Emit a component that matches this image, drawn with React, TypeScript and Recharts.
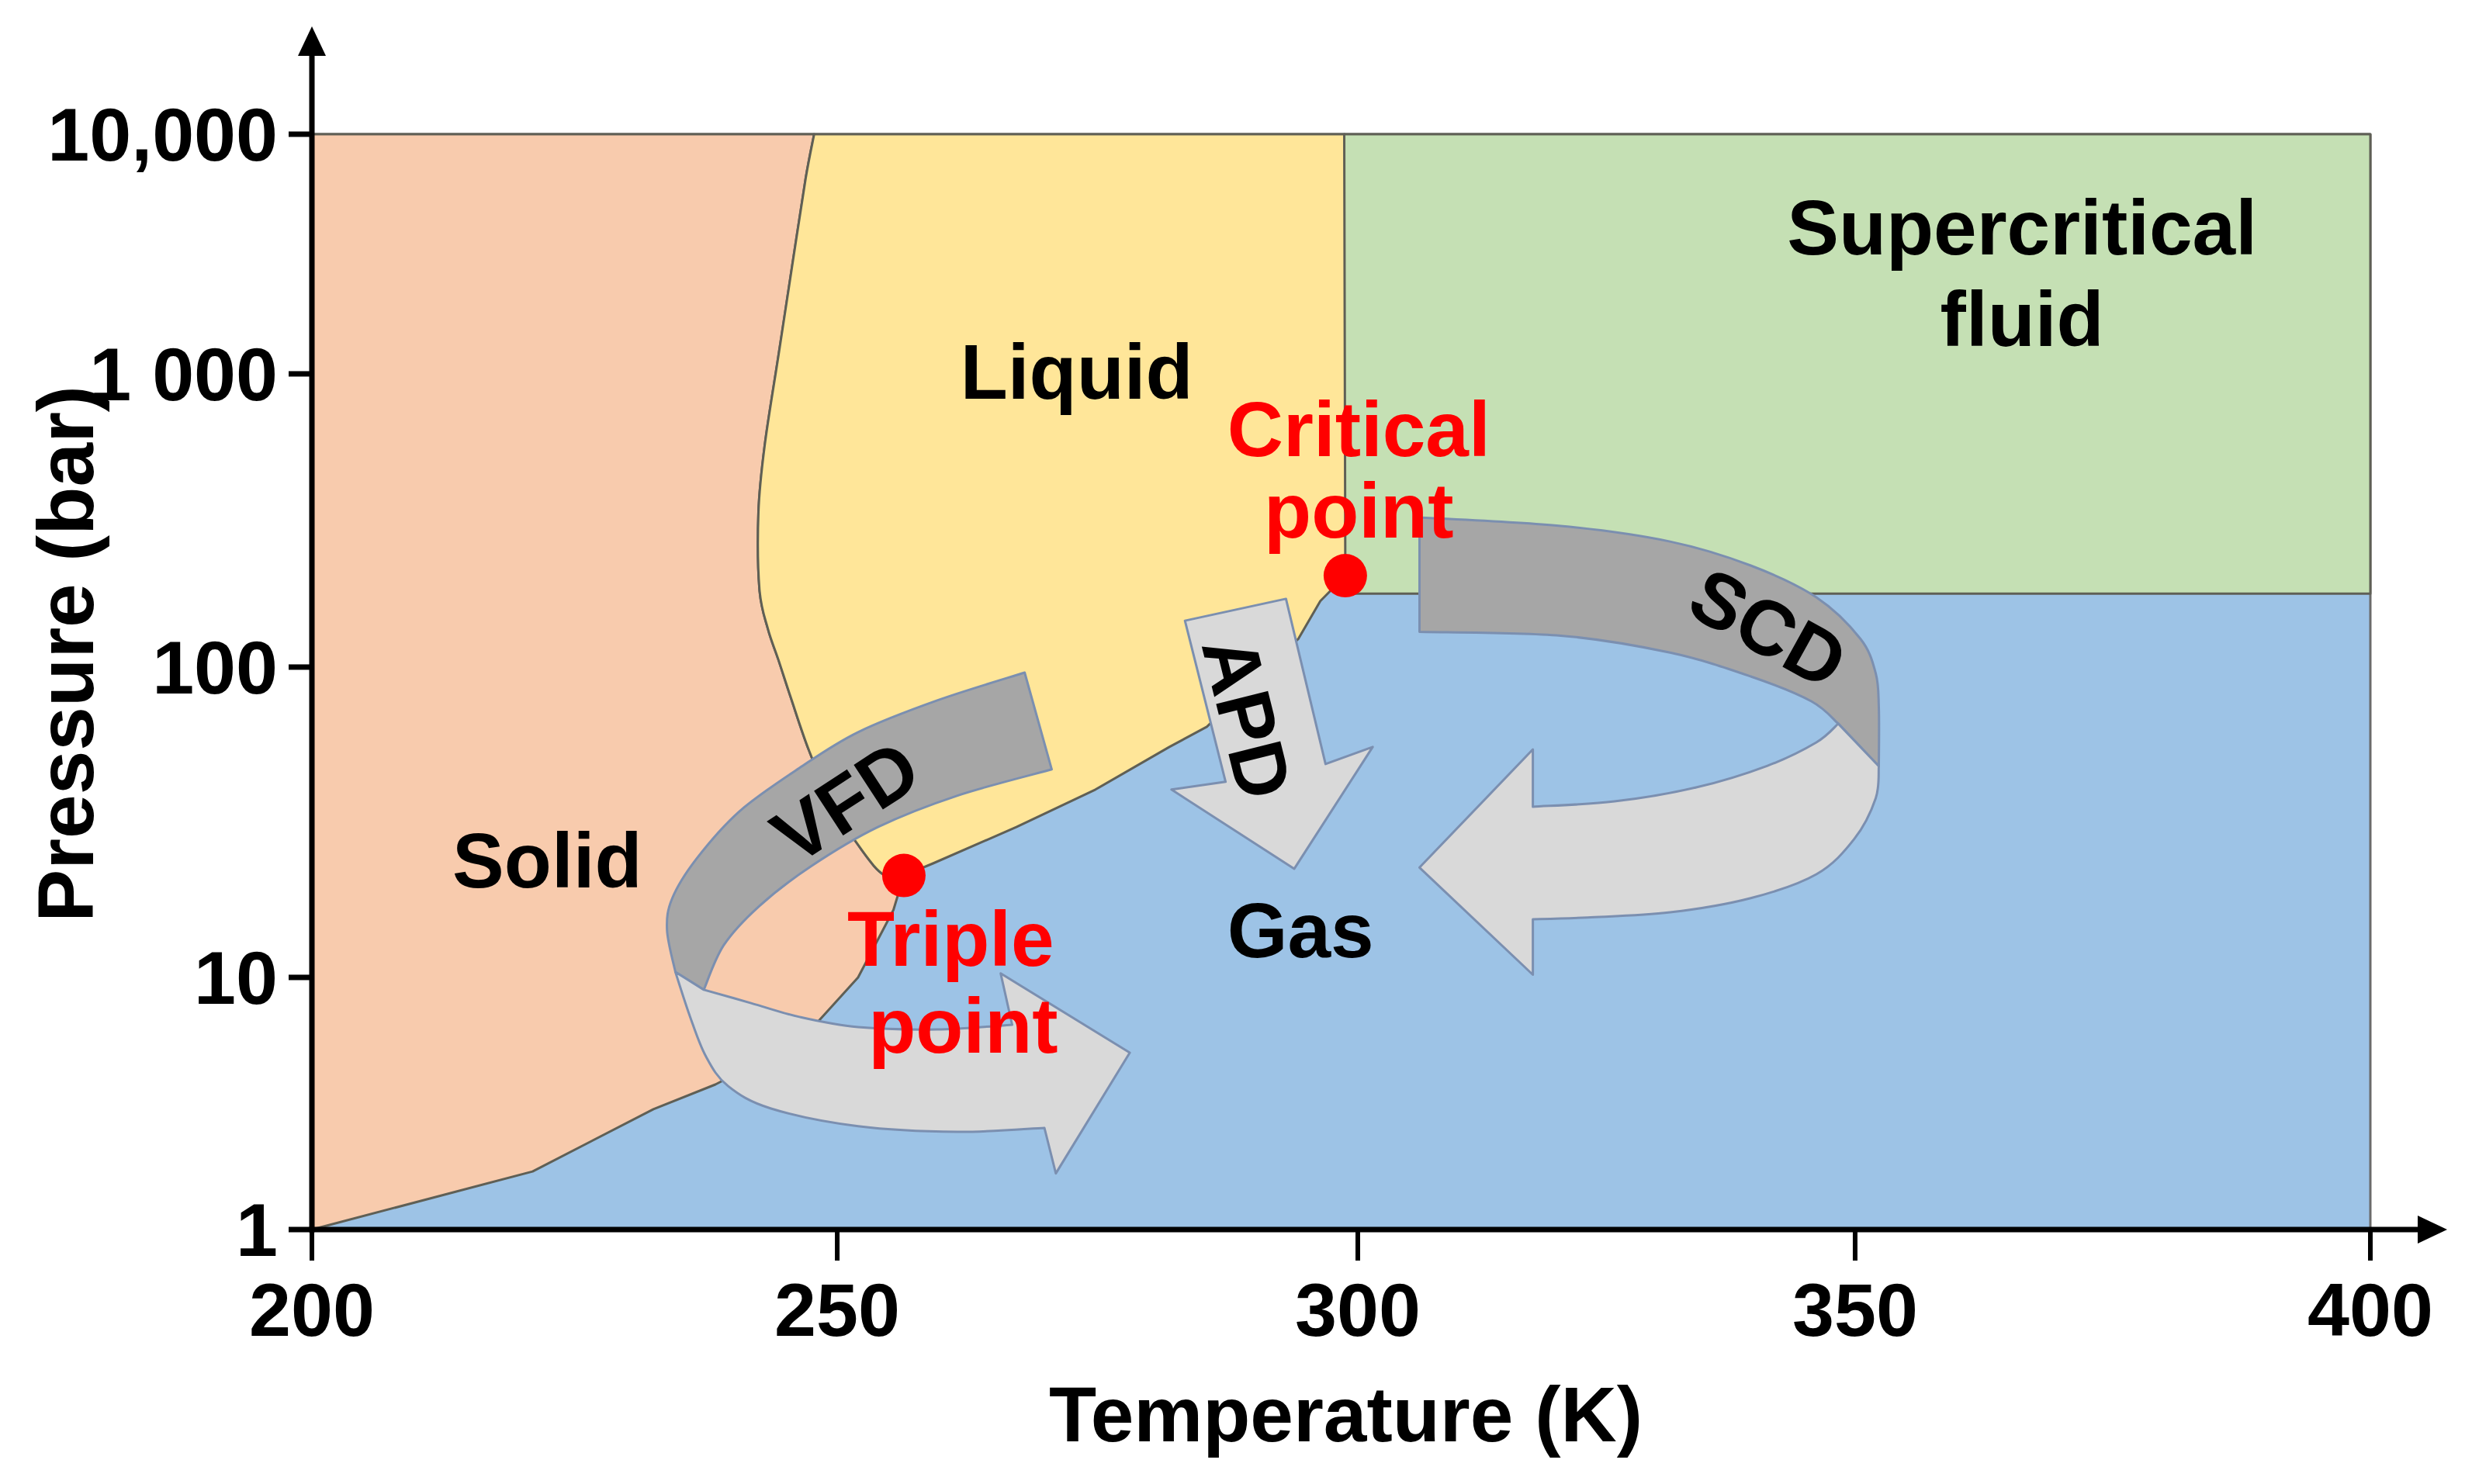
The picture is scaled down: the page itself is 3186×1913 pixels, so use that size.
import React from 'react';
import { ScatterChart, Scatter, XAxis, YAxis } from 'recharts';

const FONT = '"Liberation Sans", Arial, Helvetica, sans-serif';

// ---- axes ----
const temperatureTicks = [200, 250, 300, 350, 400];
const pressureTicks = [1, 10, 100, 1000, 10000];
const pressureTickLabels = ['1', '10', '100', '1 000', '10,000'];
// the drawn axes are not evenly spaced: relative position of each tick along its axis
const temperatureTickFractions = [0, 0.2552, 0.5081, 0.7497, 1];
const pressureTickFractions = [0, 0.2302, 0.5135, 0.7812, 1];

// ---- phase boundaries (T in K, P in bar) ----
const plotFrame = [[200, 1], [400, 1], [400, 10000], [200, 10000]];
const supercriticalRegion = [[298.7, 178], [400, 178], [400, 10000], [298.7, 10000]];
const meltingCurve = [
  [247.8, 10000], [247.0, 6550], [245.7, 2800], [244.4, 1187], [243.1, 571], [242.5, 338],
  [242.6, 184], [243.4, 135], [244.4, 106], [245.6, 79.4], [247.3, 54.0], [249.4, 36.9],
  [252.4, 25.6], [254.5, 21.4],
];
const triplePoint = [256.4, 21.3];
const criticalPoint = [298.8, 205];
const sublimationCurve = [
  [255.4, 16.5], [252.0, 10.0], [247.5, 6.22], [243.1, 4.75], [238.4, 3.76], [232.5, 3.0],
  [221.0, 1.7], [200, 1],
];
const vaporizationCurve = [
  [259.2, 23.3], [267.2, 30.5], [274.8, 40.3], [281.9, 55.3], [285.5, 64.2], [294.3, 125],
  [296.4, 168],
];
const criticalIsothermTop = [298.7, 10000];

// ---- process arrows (outline vertices, T/P) ----
const vfdUpper = [
  [268.0, 96.0], [259.6, 78.1], [252.0, 61.7], [246.4, 47.3], [240.7, 34.3], [236.6, 24.1],
  [234.3, 18.0], [233.8, 14.2], [234.6, 10.4], [237.3, 8.93], [239.2, 12.7], [242.6, 17.0],
  [247.5, 22.8], [253.9, 30.5], [261.5, 38.5], [270.6, 46.8],
];
const vfdLower = [
  [234.6, 10.4], [236.0, 6.97], [237.5, 4.86], [239.6, 3.71], [243.7, 3.02], [252.0, 2.57],
  [261.5, 2.44], [269.9, 2.53], [271.0, 1.67], [278.1, 5.03], [265.7, 10.3], [266.8, 6.49],
  [259.6, 6.22], [252.0, 6.35], [246.4, 6.97], [241.8, 7.91], [237.3, 8.93],
];
const apdArrow = [
  [283.4, 144], [293.1, 171], [296.9, 48.7], [301.5, 55.3], [293.9, 22.4], [282.1, 40.3],
  [287.3, 42.7],
];
const scdUpper = [
  [306.2, 324], [320.4, 303], [331.4, 268], [339.5, 222], [346.1, 173], [350.5, 125],
  [352.0, 95.5], [352.3, 74.1], [352.3, 47.9], [348.3, 65.7], [345.6, 77.6], [339.5, 93.3],
  [331.4, 112], [320.4, 128], [306.2, 132],
];
const scdLower = [
  [352.3, 47.9], [352.0, 37.8], [349.9, 27.9], [346.1, 21.5], [339.5, 18.0], [331.4, 16.2],
  [323.1, 15.6], [317.6, 15.4], [317.6, 10.2], [306.2, 22.6], [317.6, 54.3], [317.6, 35.5],
  [325.8, 36.9], [334.1, 41.0], [341.2, 48.1], [346.1, 57.2], [348.3, 65.7],
];

// ---- annotations ----
const annotationText = ['Solid', 'Liquid', 'Gas', 'Supercritical', 'fluid', 'Critical', 'point', 'Triple', 'point', 'VFD', 'APD', 'SCD'];
const annotationT = [222.4, 273.0, 294.5, 366.2, 366.2, 300.1, 300.1, 260.9, 262.1, 250.8, 289.4, 341.3];
const annotationP = [23.8, 1023, 14.2, 4093, 1697, 649, 342, 13.3, 6.45, 36.9, 68.8, 136];

// ---- styles (kept apart from data) ----
const annotationColor = ['#000', '#000', '#000', '#000', '#000', '#ff0000', '#ff0000', '#ff0000', '#ff0000', '#000', '#000', '#000'];
const annotationAngle = [0, 0, 0, 0, 0, 0, 0, 0, 0, -33, 76, 29];

const C = {
  gas: '#9DC3E6',
  solid: '#F8CBAD',
  liquid: '#FFE699',
  super: '#C5E0B4',
  boundary: '#5f5f55',
  dark: '#A6A6A6',
  light: '#D9D9D9',
  arrowEdge: '#7b8fb0',
  red: '#ff0000',
};

// indices of sharp vertices for each outline (others are smoothed)
const solidCorners = [0, 1, 15, 16, 17, 18, 19, 20, 21, 22, 23];
const liquidCorners = [0, 14, 15, 16, 17, 18, 19, 20, 21, 22, 23];
const vfdUpperCorners = [0, 8, 9, 15];
const vfdLowerCorners = [0, 7, 8, 9, 10, 11, 16];
const scdUpperCorners = [0, 8, 9, 14];
const scdLowerCorners = [0, 7, 8, 9, 10, 11, 16];

function makeCalibratedScale(knots: number[], fractions: number[], tf: (v: number) => number, itf: (v: number) => number): any {
  let dom: number[] = [knots[0], knots[knots.length - 1]];
  let rng: number[] = [0, 1];
  const tk = knots.map(tf);
  const seg = (t: number) => {
    let i = 0;
    while (i < tk.length - 2 && t > tk[i + 1]) i++;
    return i;
  };
  const scale: any = function (v: number) {
    const t = tf(Number(v));
    const i = seg(t);
    const f = fractions[i] + ((t - tk[i]) / (tk[i + 1] - tk[i])) * (fractions[i + 1] - fractions[i]);
    return rng[0] + f * (rng[1] - rng[0]);
  };
  scale.domain = function (d?: number[]) {
    if (d === undefined) return dom.slice();
    dom = d.slice();
    return scale;
  };
  scale.range = function (r?: number[]) {
    if (r === undefined) return rng.slice();
    rng = r.slice();
    return scale;
  };
  scale.invert = function (px: number) {
    const f = (px - rng[0]) / (rng[1] - rng[0]);
    let i = 0;
    while (i < fractions.length - 2 && f > fractions[i + 1]) i++;
    const t = tk[i] + ((f - fractions[i]) / (fractions[i + 1] - fractions[i])) * (tk[i + 1] - tk[i]);
    return itf(t);
  };
  scale.ticks = function () {
    return knots.slice();
  };
  scale.tickFormat = function () {
    return (v: number) => String(v);
  };
  scale.nice = function () {
    return scale;
  };
  scale.clamp = function () {
    return scale;
  };
  scale.copy = function () {
    return makeCalibratedScale(knots, fractions, tf, itf).domain(dom).range(rng);
  };
  return scale;
}

const temperatureScale = makeCalibratedScale(temperatureTicks, temperatureTickFractions, (v) => v, (v) => v);
const pressureScale = makeCalibratedScale(pressureTicks, pressureTickFractions, (v) => Math.log10(v), (v) => Math.pow(10, v));

const toPts = (a: number[][]) => a.map(([T, P]) => ({ T, P }));

const solidRegion = [[200, 10000], ...meltingCurve, triplePoint, ...sublimationCurve];
const liquidRegion = [...meltingCurve, triplePoint, ...vaporizationCurve, criticalPoint, criticalIsothermTop];
const yAxisLine = [[200, 1], [200, 10000]];
const xAxisLine = [[200, 1], [400, 1]];
const specialPoints = [triplePoint, criticalPoint];
const annotations = annotationText.map((text, i) => ({ T: annotationT[i], P: annotationP[i], text, idx: i }));

const noDot = () => <g />;

const f1 = (v: number) => v.toFixed(1);

function outlinePath(pts: { x: number; y: number }[], corners: number[] | null) {
  const n = pts.length;
  const isC = (i: number) => corners === null || corners.includes(((i % n) + n) % n);
  let d = `M${f1(pts[0].x)},${f1(pts[0].y)}`;
  for (let i = 0; i < n; i++) {
    const j = (i + 1) % n;
    const p1 = pts[i];
    const p2 = pts[j];
    if (isC(i) && isC(j)) {
      d += ` L${f1(p2.x)},${f1(p2.y)}`;
      continue;
    }
    const p0 = isC(i) ? p1 : pts[(i - 1 + n) % n];
    const p3 = isC(j) ? p2 : pts[(j + 1) % n];
    const c1x = p1.x + (p2.x - p0.x) / 6;
    const c1y = p1.y + (p2.y - p0.y) / 6;
    const c2x = p2.x - (p3.x - p1.x) / 6;
    const c2y = p2.y - (p3.y - p1.y) / 6;
    d += ` C${f1(c1x)},${f1(c1y)} ${f1(c2x)},${f1(c2y)} ${f1(p2.x)},${f1(p2.y)}`;
  }
  return d + ' Z';
}

const polygonRenderer = (fill: string, stroke: string, strokeWidth: number, corners: number[] | null = null) => (props: any) => {
  const pts = (props && props.points) || [];
  if (!pts.length) return <g />;
  return <path d={outlinePath(pts, corners)} fill={fill} stroke={stroke} strokeWidth={strokeWidth} strokeLinejoin="round" />;
};

const axisArrowRenderer = (overhang: number) => (props: any) => {
  const pts = (props && props.points) || [];
  if (pts.length < 2) return <g />;
  const a = pts[0];
  const b = pts[pts.length - 1];
  const dx = b.x - a.x;
  const dy = b.y - a.y;
  const len = Math.hypot(dx, dy) || 1;
  const ux = dx / len;
  const uy = dy / len;
  const tip = { x: b.x + ux * overhang, y: b.y + uy * overhang };
  const headLen = 38;
  const headHalf = 18;
  const base = { x: tip.x - ux * headLen, y: tip.y - uy * headLen };
  const px = -uy;
  const py = ux;
  return (
    <g>
      <line x1={a.x - ux * 3.5} y1={a.y - uy * 3.5} x2={base.x + ux * 4} y2={base.y + uy * 4} stroke="#000" strokeWidth={7} />
      <polygon
        points={`${tip.x},${tip.y} ${base.x + px * headHalf},${base.y + py * headHalf} ${base.x - px * headHalf},${base.y - py * headHalf}`}
        fill="#000"
      />
    </g>
  );
};

const pointShape = (props: any) => <circle cx={props.cx} cy={props.cy} r={28} fill={C.red} />;

const annotationShape = (props: any) => {
  const { cx, cy, payload } = props;
  const i = payload ? payload.idx : 0;
  const angle = annotationAngle[i];
  return (
    <text
      x={cx}
      y={cy}
      textAnchor="middle"
      dominantBaseline="central"
      fontFamily={FONT}
      fontWeight={700}
      fontSize={100}
      fill={annotationColor[i]}
      transform={angle ? `rotate(${angle} ${cx} ${cy})` : undefined}
    >
      {payload ? payload.text : ''}
    </text>
  );
};

const yTitle = (props: any) => {
  const vb = (props && props.viewBox) || { x: 0, y: 165, width: 394, height: 1412 };
  const x = vb.x + 77;
  const y = vb.y + vb.height / 2 - 36;
  return (
    <text x={x} y={y} transform={`rotate(-90 ${x} ${y})`} textAnchor="middle" dominantBaseline="central"
      fontFamily={FONT} fontWeight={700} fontSize={102} fill="#000">
      Pressure (bar)
    </text>
  );
};

const xTitle = (props: any) => {
  const vb = (props && props.viewBox) || { x: 394, y: 1577, width: 2653, height: 313 };
  const x = vb.x + vb.width / 2 + 6;
  const y = vb.y + 238;
  return (
    <text x={x} y={y} textAnchor="middle" dominantBaseline="central" fontFamily={FONT} fontWeight={700} fontSize={100} fill="#000">
      Temperature (K)
    </text>
  );
};

const tickStyle = { fontSize: 97, fontWeight: 700, fill: '#000', fontFamily: FONT };

export default function App() {
  return (
    <div style={{ width: 3165, height: 1890 }}>
      <ScatterChart width={3165} height={1890} margin={{ top: 165, right: 118, bottom: 0, left: 0 }}>
        <XAxis
          type="number"
          dataKey="T"
          scale={temperatureScale}
          domain={[200, 400]}
          ticks={temperatureTicks}
          interval={0}
          height={313}
          axisLine={false}
          tickLine={{ stroke: '#000', strokeWidth: 6 }}
          tickSize={40}
          tickMargin={28}
          tick={tickStyle}
          label={xTitle}
        />
        <YAxis
          type="number"
          dataKey="P"
          scale={pressureScale}
          domain={[1, 10000]}
          ticks={pressureTicks}
          interval={0}
          tickFormatter={(v: number) => pressureTickLabels[pressureTicks.indexOf(v)] ?? String(v)}
          width={394}
          axisLine={false}
          tickLine={{ stroke: '#000', strokeWidth: 7 }}
          tickSize={30}
          tickMargin={14}
          tick={tickStyle}
          label={yTitle}
        />
        <Scatter data={toPts(plotFrame)} shape={noDot} line={polygonRenderer(C.gas, '#6b6b6b', 3)} isAnimationActive={false} />
        <Scatter data={toPts(supercriticalRegion)} shape={noDot} line={polygonRenderer(C.super, C.boundary, 3)} isAnimationActive={false} />
        <Scatter data={toPts(solidRegion)} shape={noDot} line={polygonRenderer(C.solid, C.boundary, 3, solidCorners)} isAnimationActive={false} />
        <Scatter data={toPts(liquidRegion)} shape={noDot} line={polygonRenderer(C.liquid, C.boundary, 3, liquidCorners)} isAnimationActive={false} />
        <Scatter data={toPts(vfdUpper)} shape={noDot} line={polygonRenderer(C.dark, C.arrowEdge, 3, vfdUpperCorners)} isAnimationActive={false} />
        <Scatter data={toPts(vfdLower)} shape={noDot} line={polygonRenderer(C.light, C.arrowEdge, 3, vfdLowerCorners)} isAnimationActive={false} />
        <Scatter data={toPts(apdArrow)} shape={noDot} line={polygonRenderer(C.light, C.arrowEdge, 3)} isAnimationActive={false} />
        <Scatter data={toPts(scdUpper)} shape={noDot} line={polygonRenderer(C.dark, C.arrowEdge, 3, scdUpperCorners)} isAnimationActive={false} />
        <Scatter data={toPts(scdLower)} shape={noDot} line={polygonRenderer(C.light, C.arrowEdge, 3, scdLowerCorners)} isAnimationActive={false} />
        <Scatter data={toPts(specialPoints)} shape={pointShape} isAnimationActive={false} />
        <Scatter data={toPts(yAxisLine)} shape={noDot} line={axisArrowRenderer(139)} isAnimationActive={false} />
        <Scatter data={toPts(xAxisLine)} shape={noDot} line={axisArrowRenderer(99)} isAnimationActive={false} />
        <Scatter data={annotations} shape={annotationShape} isAnimationActive={false} />
      </ScatterChart>
    </div>
  );
}
